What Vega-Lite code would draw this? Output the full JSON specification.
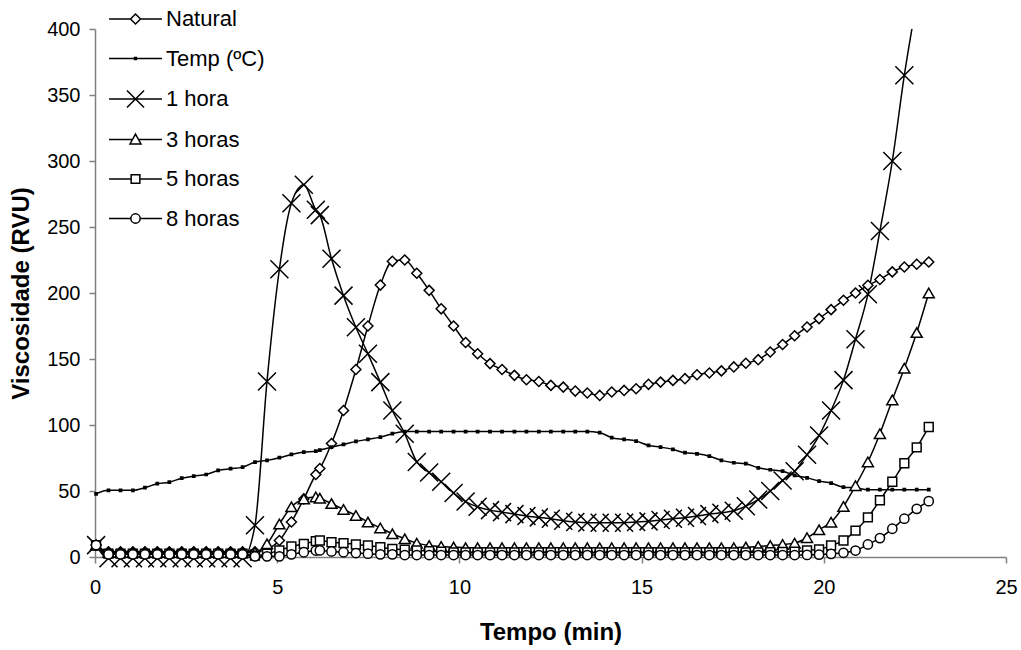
{
  "$schema": "https://vega.github.io/schema/vega-lite/v6.json",
  "width": 911,
  "height": 528,
  "autosize": {"type": "none"},
  "padding": {"left": 95, "top": 29, "right": 15, "bottom": 93},
  "background": "white",
  "config": {"view": {"stroke": null}, "font": "Liberation Sans"},
  "data": {"values": [
    {"t":0.03,"Natural":9,"Temp (ºC)":47.9,"1 hora":9,"3 horas":9,"5 horas":9,"8 horas":9},
    {"t":0.37,"Natural":4,"Temp (ºC)":50.5,"1 hora":-1,"3 horas":3.5,"5 horas":2.5,"8 horas":2},
    {"t":0.70,"Natural":4,"Temp (ºC)":50.5,"1 hora":-1,"3 horas":3.5,"5 horas":2.5,"8 horas":2},
    {"t":1.04,"Natural":4,"Temp (ºC)":50.5,"1 hora":-1,"3 horas":3.5,"5 horas":2.5,"8 horas":2},
    {"t":1.37,"Natural":4,"Temp (ºC)":52.5,"1 hora":-1,"3 horas":3.5,"5 horas":2.5,"8 horas":2},
    {"t":1.71,"Natural":4,"Temp (ºC)":55.5,"1 hora":-1,"3 horas":3.5,"5 horas":2.5,"8 horas":2},
    {"t":2.04,"Natural":4,"Temp (ºC)":56.7,"1 hora":-1,"3 horas":3.5,"5 horas":2.5,"8 horas":2},
    {"t":2.38,"Natural":4,"Temp (ºC)":59.7,"1 hora":-1,"3 horas":3.5,"5 horas":2.5,"8 horas":2},
    {"t":2.71,"Natural":4,"Temp (ºC)":61.3,"1 hora":-1,"3 horas":3.5,"5 horas":2.5,"8 horas":2},
    {"t":3.05,"Natural":4,"Temp (ºC)":62.5,"1 hora":-1,"3 horas":3.5,"5 horas":2.5,"8 horas":2},
    {"t":3.38,"Natural":4,"Temp (ºC)":65.6,"1 hora":-1,"3 horas":3.5,"5 horas":2.5,"8 horas":2},
    {"t":3.72,"Natural":4,"Temp (ºC)":66.9,"1 hora":-1,"3 horas":3.5,"5 horas":2.5,"8 horas":2},
    {"t":4.05,"Natural":4,"Temp (ºC)":68.1,"1 hora":-1,"3 horas":3.5,"5 horas":2.5,"8 horas":2},
    {"t":4.39,"Natural":4,"Temp (ºC)":71.9,"1 hora":24,"3 horas":3.5,"5 horas":1,"8 horas":0.5},
    {"t":4.72,"Natural":6,"Temp (ºC)":73.2,"1 hora":133,"3 horas":10,"5 horas":2.5,"8 horas":0.5},
    {"t":5.06,"Natural":12.5,"Temp (ºC)":75.2,"1 hora":218,"3 horas":25,"5 horas":5,"8 horas":0.5},
    {"t":5.39,"Natural":26.5,"Temp (ºC)":77.7,"1 hora":268,"3 horas":38,"5 horas":8,"8 horas":2},
    {"t":5.73,"Natural":44,"Temp (ºC)":79.5,"1 hora":282,"3 horas":44,"5 horas":10,"8 horas":3.6},
    {"t":6.06,"Natural":62.5,"Temp (ºC)":80.2,"1 hora":263,"3 horas":45.5,"5 horas":12,"8 horas":4.9},
    {"t":6.17,"Natural":67,"Temp (ºC)":81,"1 hora":259,"3 horas":44.5,"5 horas":12.5,"8 horas":5},
    {"t":6.49,"Natural":86,"Temp (ºC)":83.2,"1 hora":226,"3 horas":40.5,"5 horas":11.2,"8 horas":4.2},
    {"t":6.82,"Natural":111,"Temp (ºC)":85.3,"1 hora":198,"3 horas":36,"5 horas":10.5,"8 horas":3.6},
    {"t":7.16,"Natural":142,"Temp (ºC)":87.6,"1 hora":174,"3 horas":31.5,"5 horas":9.5,"8 horas":3},
    {"t":7.49,"Natural":175,"Temp (ºC)":89.1,"1 hora":154,"3 horas":26.5,"5 horas":8.7,"8 horas":2.5},
    {"t":7.83,"Natural":206,"Temp (ºC)":90.8,"1 hora":132.5,"3 horas":22,"5 horas":7.4,"8 horas":2},
    {"t":8.16,"Natural":224,"Temp (ºC)":93.4,"1 hora":111,"3 horas":17.6,"5 horas":6.2,"8 horas":2},
    {"t":8.50,"Natural":225,"Temp (ºC)":95,"1 hora":93.4,"3 horas":13.8,"5 horas":5.5,"8 horas":1.5},
    {"t":8.83,"Natural":215,"Temp (ºC)":95,"1 hora":72,"3 horas":10.5,"5 horas":5,"8 horas":1.5},
    {"t":9.17,"Natural":202,"Temp (ºC)":95,"1 hora":64,"3 horas":8.7,"5 horas":4.5,"8 horas":1.5},
    {"t":9.50,"Natural":188,"Temp (ºC)":95,"1 hora":57,"3 horas":8,"5 horas":4,"8 horas":1.5},
    {"t":9.84,"Natural":175,"Temp (ºC)":95,"1 hora":48.5,"3 horas":7.5,"5 horas":3.5,"8 horas":1.5},
    {"t":10.17,"Natural":162.5,"Temp (ºC)":95,"1 hora":42,"3 horas":7,"5 horas":3.5,"8 horas":1.5},
    {"t":10.50,"Natural":154,"Temp (ºC)":95,"1 hora":38,"3 horas":7,"5 horas":3.5,"8 horas":1.5},
    {"t":10.84,"Natural":146.5,"Temp (ºC)":95,"1 hora":35.5,"3 horas":7,"5 horas":3.5,"8 horas":1.5},
    {"t":11.17,"Natural":142,"Temp (ºC)":95,"1 hora":34,"3 horas":7,"5 horas":3.5,"8 horas":1.5},
    {"t":11.51,"Natural":137.6,"Temp (ºC)":95,"1 hora":32.5,"3 horas":7,"5 horas":3.5,"8 horas":1.5},
    {"t":11.84,"Natural":134.3,"Temp (ºC)":95,"1 hora":31,"3 horas":7,"5 horas":3.5,"8 horas":1.5},
    {"t":12.18,"Natural":133,"Temp (ºC)":95,"1 hora":30,"3 horas":7,"5 horas":3.5,"8 horas":1.5},
    {"t":12.51,"Natural":130,"Temp (ºC)":95,"1 hora":29,"3 horas":7,"5 horas":3.5,"8 horas":1.5},
    {"t":12.85,"Natural":128.7,"Temp (ºC)":95,"1 hora":27.5,"3 horas":7,"5 horas":3.5,"8 horas":1.5},
    {"t":13.18,"Natural":125.7,"Temp (ºC)":95,"1 hora":26.5,"3 horas":7,"5 horas":3.5,"8 horas":1.5},
    {"t":13.51,"Natural":124.2,"Temp (ºC)":95,"1 hora":26,"3 horas":7,"5 horas":3.5,"8 horas":1.5},
    {"t":13.85,"Natural":122.4,"Temp (ºC)":94.2,"1 hora":26,"3 horas":7,"5 horas":3.5,"8 horas":1.5},
    {"t":14.18,"Natural":125,"Temp (ºC)":90.4,"1 hora":26,"3 horas":7,"5 horas":3.5,"8 horas":1.5},
    {"t":14.52,"Natural":126.2,"Temp (ºC)":89.1,"1 hora":26,"3 horas":7,"5 horas":3.5,"8 horas":1.5},
    {"t":14.85,"Natural":127.5,"Temp (ºC)":87.8,"1 hora":26.5,"3 horas":7,"5 horas":3.5,"8 horas":1.5},
    {"t":15.19,"Natural":130.8,"Temp (ºC)":84.5,"1 hora":27,"3 horas":7,"5 horas":3.5,"8 horas":1.5},
    {"t":15.52,"Natural":132.5,"Temp (ºC)":83.2,"1 hora":28,"3 horas":7,"5 horas":3.5,"8 horas":1.5},
    {"t":15.86,"Natural":133.8,"Temp (ºC)":81.5,"1 hora":29,"3 horas":7,"5 horas":3.5,"8 horas":1.5},
    {"t":16.19,"Natural":135.1,"Temp (ºC)":79,"1 hora":29.8,"3 horas":7,"5 horas":3.5,"8 horas":1.5},
    {"t":16.52,"Natural":138.1,"Temp (ºC)":78.2,"1 hora":31,"3 horas":7,"5 horas":3.5,"8 horas":1.5},
    {"t":16.86,"Natural":139.4,"Temp (ºC)":76.4,"1 hora":32.5,"3 horas":7,"5 horas":3.5,"8 horas":1.5},
    {"t":17.19,"Natural":141,"Temp (ºC)":73.2,"1 hora":33.5,"3 horas":7,"5 horas":3.5,"8 horas":1.5},
    {"t":17.53,"Natural":144,"Temp (ºC)":71.4,"1 hora":35,"3 horas":7,"5 horas":3.5,"8 horas":1.5},
    {"t":17.86,"Natural":146.8,"Temp (ºC)":70.7,"1 hora":38.5,"3 horas":7.5,"5 horas":3.5,"8 horas":1.5},
    {"t":18.20,"Natural":149.5,"Temp (ºC)":67.6,"1 hora":43.5,"3 horas":8,"5 horas":3.5,"8 horas":1.5},
    {"t":18.53,"Natural":155.3,"Temp (ºC)":66.1,"1 hora":50,"3 horas":8.7,"5 horas":3.6,"8 horas":1.5},
    {"t":18.87,"Natural":161,"Temp (ºC)":65,"1 hora":58,"3 horas":9.5,"5 horas":3.8,"8 horas":1.5},
    {"t":19.20,"Natural":167.6,"Temp (ºC)":61.8,"1 hora":65,"3 horas":10.5,"5 horas":4,"8 horas":1.5},
    {"t":19.54,"Natural":174.2,"Temp (ºC)":60,"1 hora":77.5,"3 horas":14.6,"5 horas":5,"8 horas":1.6},
    {"t":19.87,"Natural":180.6,"Temp (ºC)":57.5,"1 hora":92,"3 horas":20.6,"5 horas":5.7,"8 horas":1.8},
    {"t":20.20,"Natural":187.4,"Temp (ºC)":56,"1 hora":111,"3 horas":26.4,"5 horas":8.7,"8 horas":2.4},
    {"t":20.54,"Natural":194.5,"Temp (ºC)":52.9,"1 hora":134,"3 horas":38.3,"5 horas":12.5,"8 horas":3.2},
    {"t":20.87,"Natural":200,"Temp (ºC)":52.5,"1 hora":165,"3 horas":54,"5 horas":20,"8 horas":4.9},
    {"t":21.21,"Natural":205.8,"Temp (ºC)":51,"1 hora":199,"3 horas":72,"5 horas":30,"8 horas":9.5},
    {"t":21.54,"Natural":210.2,"Temp (ºC)":51,"1 hora":247,"3 horas":93.4,"5 horas":43,"8 horas":14.3},
    {"t":21.88,"Natural":216,"Temp (ºC)":51,"1 hora":300,"3 horas":119,"5 horas":57,"8 horas":21.4},
    {"t":22.21,"Natural":219.7,"Temp (ºC)":51,"1 hora":365,"3 horas":143,"5 horas":71,"8 horas":29},
    {"t":22.55,"Natural":221.8,"Temp (ºC)":51,"1 hora":423,"3 horas":170,"5 horas":83,"8 horas":36.5},
    {"t":22.88,"Natural":223.5,"Temp (ºC)":51,"1 hora":490,"3 horas":200,"5 horas":98.5,"8 horas":42.3}
  ]},
  "transform": [
    {"fold": ["Natural", "Temp (ºC)", "1 hora", "3 horas", "5 horas", "8 horas"], "as": ["s", "v"]}
  ],
  "encoding": {
    "x": {
      "field": "t", "type": "quantitative",
      "scale": {"domain": [0, 25], "nice": false, "zero": false},
      "axis": {
        "title": "Tempo (min)", "values": [0, 5, 10, 15, 20, 25], "grid": false,
        "labelFont": "Liberation Sans", "labelFontSize": 20, "labelColor": "black", "labelPadding": 14, "labelFlush": false,
        "titleFont": "Liberation Sans", "titleFontSize": 24, "titleFontWeight": "bold", "titleColor": "black", "titlePadding": 23,
        "domainColor": "#808080", "domainWidth": 1.5, "tickColor": "#808080", "tickWidth": 1.5, "tickSize": 6
      }
    },
    "y": {
      "field": "v", "type": "quantitative",
      "scale": {"domain": [0, 400], "nice": false},
      "axis": {
        "title": "Viscosidade (RVU)", "values": [0, 50, 100, 150, 200, 250, 300, 350, 400], "grid": false,
        "labelFont": "Liberation Sans", "labelFontSize": 20, "labelColor": "black", "labelPadding": 9,
        "titleFont": "Liberation Sans", "titleFontSize": 24, "titleFontWeight": "bold", "titleColor": "black", "titlePadding": 13,
        "domainColor": "#808080", "domainWidth": 1.5, "tickColor": "#808080", "tickWidth": 1.5, "tickSize": 6
      }
    }
  },
  "layer": [
    {
      "mark": {"type": "line", "clip": true, "interpolate": "monotone", "color": "black", "strokeWidth": 1.5},
      "encoding": {"detail": {"field": "s", "type": "nominal"}}
    },
    {
      "transform": [{"filter": "datum.t < 0.1"}],
      "mark": {"type": "point", "filled": false, "color": "black", "strokeWidth": 1.5, "opacity": 0},
      "encoding": {
        "shape": {
          "field": "s", "type": "nominal",
          "scale": {
            "domain": ["Natural", "Temp (ºC)", "1 hora", "3 horas", "5 horas", "8 horas"],
            "range": [
              "M-2.94,0L-0.556,0M0.556,0L2.94,0M-0.556,0L0,-0.556L0.556,0L0,0.556Z",
              "M-2.94,0L2.94,0M-0.1,-0.1L0.1,-0.1L0.1,0.1L-0.1,0.1Z",
              "M-2.94,0L2.94,0M-0.95,-0.95L0.95,0.95M-0.95,0.95L0.95,-0.95",
              "M-2.94,0L-0.33,0M0.33,0L2.94,0M0,-0.6L0.61,0.5L-0.61,0.5Z",
              "M-2.94,0L-0.483,0M0.483,0L2.94,0M-0.483,-0.483L0.483,-0.483L0.483,0.483L-0.483,0.483Z",
              "M-2.94,0L-0.517,0M0.517,0L2.94,0M-0.517,0A0.517,0.517 0 1,0 0.517,0A0.517,0.517 0 1,0 -0.517,0Z"
            ]
          },
          "legend": {
            "title": null, "orient": "none", "legendX": 29.5, "legendY": -21,
            "symbolSize": 324, "symbolStrokeWidth": 1.5, "symbolStrokeColor": "black", "symbolOpacity": 1,
            "labelFont": "Liberation Sans", "labelFontSize": 22, "labelColor": "black", "labelOffset": 19.5, "rowPadding": 17.5
          }
        }
      }
    },
    {
      "transform": [{"filter": "datum.v <= 400"}],
      "mark": {"type": "point", "filled": true, "stroke": "black", "strokeWidth": 1.5, "opacity": 1},
      "encoding": {
        "shape": {
          "condition": [
            {"test": "datum.s === 'Natural'", "value": "diamond"},
            {"test": "datum.s === 'Temp (ºC)'", "value": "square"},
            {"test": "datum.s === '1 hora'", "value": "M-1,-1L1,1M-1,1L1,-1"},
            {"test": "datum.s === '3 horas'", "value": "triangle-up"},
            {"test": "datum.s === '5 horas'", "value": "square"}
          ],
          "value": "circle"
        },
        "size": {
          "condition": [
            {"test": "datum.s === 'Temp (ºC)'", "value": 5},
            {"test": "datum.s === '1 hora'", "value": 324},
            {"test": "datum.s === '3 horas'", "value": 121},
            {"test": "datum.s === '5 horas'", "value": 78},
            {"test": "datum.s === '8 horas'", "value": 86}
          ],
          "value": 100
        },
        "fill": {"condition": {"test": "datum.s === 'Temp (ºC)'", "value": "black"}, "value": "white"}
      }
    }
  ]
}
